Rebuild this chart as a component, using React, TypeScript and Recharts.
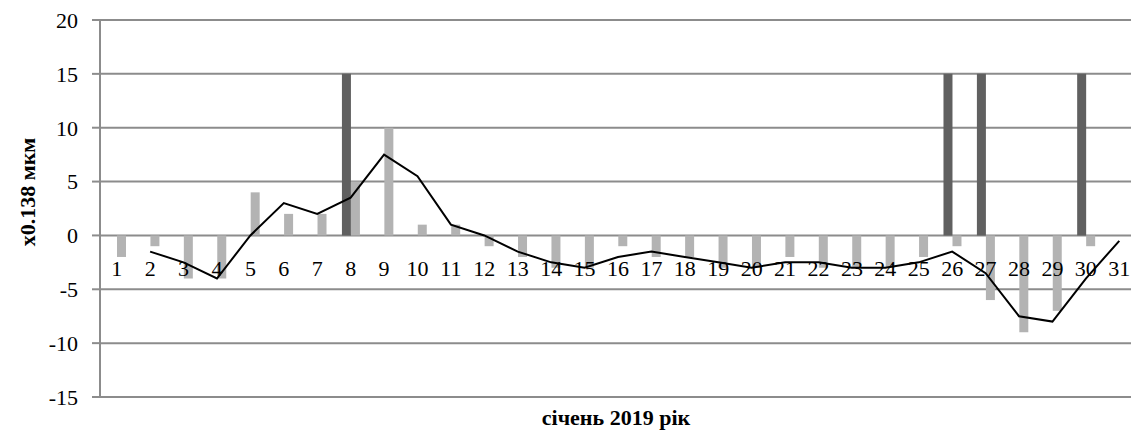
import { ComposedChart, Bar, Line, XAxis, YAxis, CartesianGrid } from 'recharts';

const days = ['1', '2', '3', '4', '5', '6', '7', '8', '9', '10', '11', '12', '13', '14', '15', '16',
  '17', '18', '19', '20', '21', '22', '23', '24', '25', '26', '27', '28', '29', '30', '31'];

// light grey bars
const shift = [-2, -1, -4, -4, 4, 2, 2, 5, 10, 1, 1, -1, -2, -3, -3, -1, -2, -2, -3, -3, -2, -3, -3, -3, -2, -1, -6, -9, -7, -1, 0];

// dark bars (only a few days)
const marks = [null, null, null, null, null, null, null, 15, null, null, null, null, null, null, null, null,
  null, null, null, null, null, null, null, null, null, 15, 15, null, null, 15, null];

// trend line (2-day average)
const trend = [null, -1.5, -2.5, -4, 0, 3, 2, 3.5, 7.5, 5.5, 1, 0, -1.5, -2.5, -3, -2, -1.5, -2, -2.5, -3,
  -2.5, -2.5, -3, -3, -2.5, -1.5, -3.5, -7.5, -8, -4, -0.5];

const yTicks = [-15, -10, -5, 0, 5, 10, 15, 20];

const data = days.map((d, i) => ({ day: d, shift: shift[i], mark: marks[i], trend: trend[i] }));

const FONT = "'Liberation Serif', 'DejaVu Serif', serif";
const TOP = 20;
const PLOT_H = 377;
const Y_MIN = -15;
const Y_MAX = 20;
const zeroY = TOP + (PLOT_H * Y_MAX) / (Y_MAX - Y_MIN);

const txt = { fontFamily: FONT, fontSize: 22, fill: '#000' };

function DayTick(props: any) {
  const { x, payload } = props;
  return (
    <text x={x} y={zeroY + 41} textAnchor="middle" style={txt}>
      {payload.value}
    </text>
  );
}

function XTitle() {
  return (
    <text x={616} y={425} textAnchor="middle" style={{ ...txt, fontWeight: 'bold' }}>
      січень 2019 рік
    </text>
  );
}

function YTitle() {
  return (
    <text x={27} y={192} transform="rotate(-90 27 192)" textAnchor="middle" dominantBaseline="central"
      style={{ ...txt, fontWeight: 'bold' }}>
      x0.138 мкм
    </text>
  );
}

export default function App() {
  return (
    <div style={{ position: 'absolute', left: 0, top: 0, width: 1131, height: 430, overflow: 'hidden' }}>
      <ComposedChart width={1136} height={430} data={data}
        margin={{ top: TOP, right: 0, bottom: 3, left: 0 }}
        barGap={0}>
        <CartesianGrid vertical={false} stroke="#8c8c8c" strokeWidth={2} />
        <XAxis dataKey="day" height={30} axisLine={false} tickLine={false} interval={0}
          tick={(p: any) => <DayTick {...p} />} label={{ content: () => <XTitle /> }} />
        <YAxis domain={[Y_MIN, Y_MAX]} ticks={yTicks} width={100} interval={0}
          axisLine={{ stroke: '#8c8c8c', strokeWidth: 2 }} tickLine={{ stroke: '#8c8c8c', strokeWidth: 2 }}
          tickSize={8} tickMargin={14}
          tick={{ fontFamily: FONT, fontSize: 22, fill: '#000' }}
          label={{ content: () => <YTitle /> }} />
        <Bar dataKey="mark" fill="#606060" barSize={9} isAnimationActive={false} />
        <Bar dataKey="shift" fill="#b3b3b3" barSize={9} isAnimationActive={false} />
        <Line dataKey="trend" type="linear" stroke="#000" strokeWidth={2} dot={false}
          activeDot={false} isAnimationActive={false} />
      </ComposedChart>
    </div>
  );
}
